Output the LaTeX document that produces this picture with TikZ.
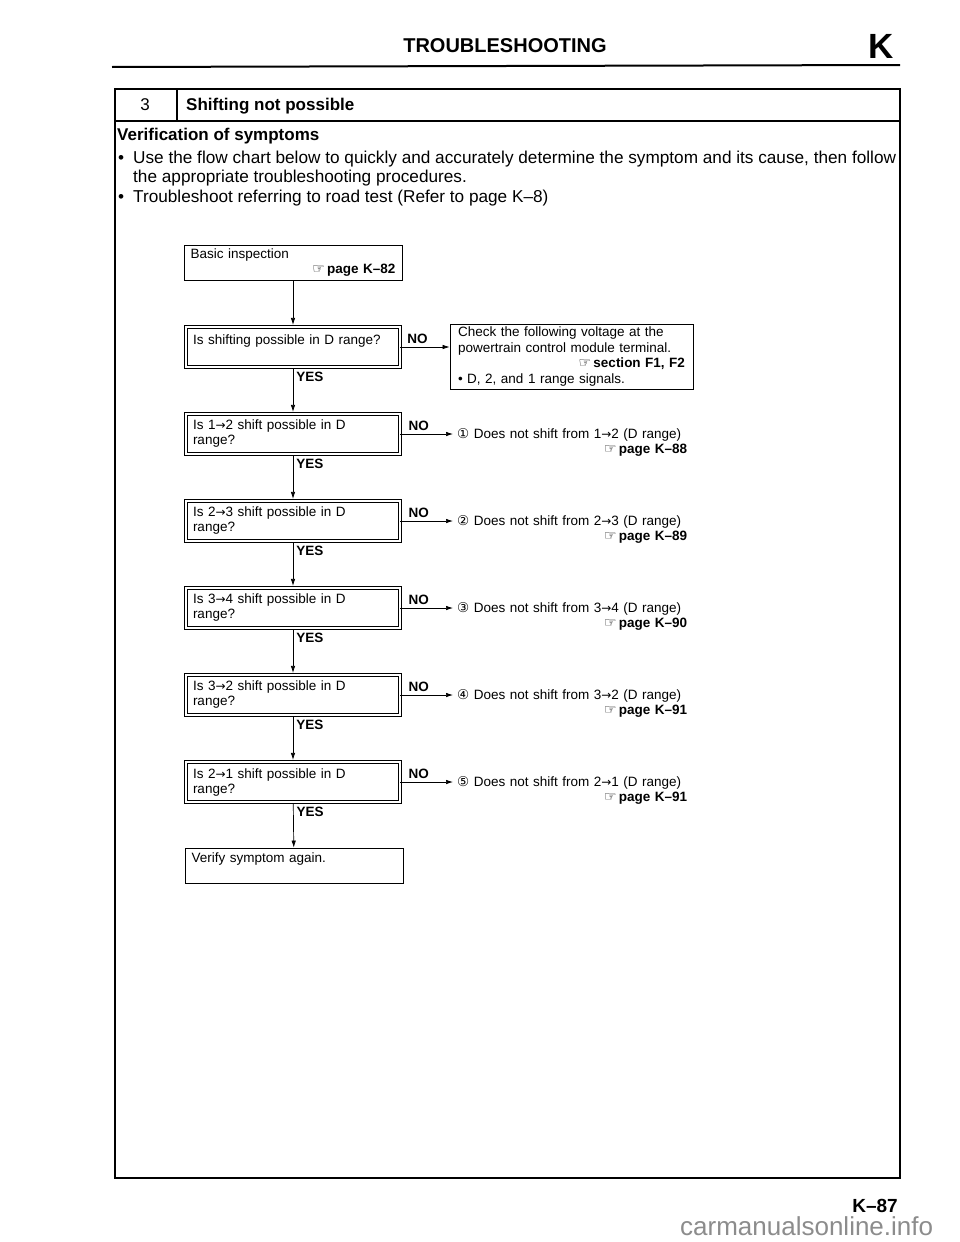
\documentclass[tikz,border=0pt]{standalone}
\usepackage{fontspec}
\setmainfont{Liberation Sans}
\newfontfamily\symfont{DejaVu Sans}
\usetikzlibrary{arrows.meta,positioning}

\newcommand{\flowfont}{\fontsize{13.5}{15}\selectfont}
\newcommand{\seeref}[1]{{\symfont\fontsize{14}{14}\selectfont ☞}\,\textbf{#1}}
\newcommand{\circnum}[1]{{\symfont #1}}
\newcommand{\shiftarrow}{{\symfont\fontsize{12}{12}\selectfont →}}

\begin{document}
\begin{tikzpicture}[x=1pt,y=-1pt,
  pbox/.style={draw, line width=.8pt, minimum width=218pt, inner sep=0pt, align=left, font=\flowfont},
  qbox/.style={draw, double, double distance=2.4pt, line width=.6pt, minimum width=214pt, minimum height=40pt, text width=200pt, inner sep=0pt, align=left, font=\flowfont},
  res/.style={anchor=west, text width=230pt, inner xsep=4pt, inner ysep=0pt, align=left, font=\flowfont},
  nolab/.style={above=3pt, inner sep=0pt, font=\flowfont\bfseries, pos=.35},
  yeslab/.style={right, xshift=3pt, inner sep=0pt, font=\flowfont\bfseries, pos=.2},
  arr/.style={-{Latex[length=7pt,width=4.5pt]}, line width=.7pt},
  body/.style={anchor=base west, inner sep=0pt, font=\fontsize{17.2}{20}\selectfont}]
\useasboundingbox (0,0) rectangle (960,1242);
\fill[white] (0,0) rectangle (960,1242);

% page head
\node[font=\bfseries\fontsize{20}{24}\selectfont] (title) at (505,46) {TROUBLESHOOTING};
\node[anchor=east, inner sep=0pt, font=\bfseries\fontsize{35}{40}\selectfont] (sect) at (894,46) {K};
\draw[line width=2pt] (112,67) -- (900,65);

% frame
\draw[line width=1.1pt] (115,89) rectangle (900,1178);
\draw[line width=1.1pt] (115,121) -- (900,121);
\draw[line width=1.1pt] (177,89) -- (177,121);
\node[font=\fontsize{17}{20}\selectfont] (num) at (145,105) {3};
\node[anchor=base west, inner sep=0pt, font=\bfseries\fontsize{17}{20}\selectfont] (head) at (186,110) {Shifting not possible};
\node[anchor=base west, inner sep=0pt, font=\bfseries\fontsize{17}{20}\selectfont] (verif) at (117,140) {Verification of symptoms};
\node[body] (l1) at (118,163) {\makebox[15pt][l]{•}Use the flow chart below to quickly and accurately determine the symptom and its cause, then follow};
\node[body] (l2) at (133,182.5) {the appropriate troubleshooting procedures.};
\node[body] (l3) at (118,202) {\makebox[15pt][l]{•}Troubleshoot referring to road test (Refer to page K–8)};

% flow chart
\node[pbox, minimum height=35pt, text width=205pt] (basic) at (293,262.5) {Basic inspection\\\hfill\seeref{page K–82}};
\node[qbox] (q0) at (293,347) {Is shifting possible in D range?\\\mbox{}};
\node[draw, line width=.8pt, text width=227pt, minimum width=243pt, minimum height=65pt, inner sep=0pt, align=left, font=\fontsize{13.5}{15.5}\selectfont] (chk) at (571.5,356.5) {Check the following voltage at the\\powertrain control module terminal.\\\hfill\seeref{section F1, F2}\\• D, 2, and 1 range signals.};
\node[qbox] (q1) at (293,434) {Is 1\shiftarrow2 shift possible in D\\range?};
\node[qbox] (q2) at (293,521) {Is 2\shiftarrow3 shift possible in D\\range?};
\node[qbox] (q3) at (293,608) {Is 3\shiftarrow4 shift possible in D\\range?};
\node[qbox] (q4) at (293,695) {Is 3\shiftarrow2 shift possible in D\\range?};
\node[qbox] (q5) at (293,782) {Is 2\shiftarrow1 shift possible in D\\range?};
\node[pbox, minimum height=35pt, text width=205pt] (verify) at (294,865.5) {Verify symptom again.\\\mbox{}};

\node[res] (r1) at (453,442) {\circnum{①} Does not shift from 1\shiftarrow2 (D range)\\\hfill\seeref{page K–88}};
\node[res] (r2) at (453,529) {\circnum{②} Does not shift from 2\shiftarrow3 (D range)\\\hfill\seeref{page K–89}};
\node[res] (r3) at (453,616) {\circnum{③} Does not shift from 3\shiftarrow4 (D range)\\\hfill\seeref{page K–90}};
\node[res] (r4) at (453,703) {\circnum{④} Does not shift from 3\shiftarrow2 (D range)\\\hfill\seeref{page K–91}};
\node[res] (r5) at (453,790) {\circnum{⑤} Does not shift from 2\shiftarrow1 (D range)\\\hfill\seeref{page K–91}};

\draw[arr, shorten >=1.8pt] (basic) -- (q0);
\draw[arr] (q0.east) -- node[nolab] (n0) {NO} (q0.east -| chk.west);
\draw[arr, shorten <=1.8pt, shorten >=1.8pt] (q0) -- node[yeslab] (y0) {YES} (q1);
\draw[arr] (q1.east) -- node[nolab] (n1) {NO} (q1.east -| r1.west);
\draw[arr, shorten <=1.8pt, shorten >=1.8pt] (q1) -- node[yeslab] (y1) {YES} (q2);
\draw[arr] (q2.east) -- node[nolab] (n2) {NO} (q2.east -| r2.west);
\draw[arr, shorten <=1.8pt, shorten >=1.8pt] (q2) -- node[yeslab] (y2) {YES} (q3);
\draw[arr] (q3.east) -- node[nolab] (n3) {NO} (q3.east -| r3.west);
\draw[arr, shorten <=1.8pt, shorten >=1.8pt] (q3) -- node[yeslab] (y3) {YES} (q4);
\draw[arr] (q4.east) -- node[nolab] (n4) {NO} (q4.east -| r4.west);
\draw[arr, shorten <=1.8pt, shorten >=1.8pt] (q4) -- node[yeslab] (y4) {YES} (q5);
\draw[arr] (q5.east) -- node[nolab] (n5) {NO} (q5.east -| r5.west);
\draw[arr, shorten <=1.8pt] (q5) -- node[yeslab] (y5) {YES} (verify);

% page foot
\node[anchor=base east, inner sep=0pt, font=\bfseries\fontsize{19}{22}\selectfont] (pagenum) at (898,1212) {K–87};
\node[anchor=base west, inner sep=0pt, text=black!45, font=\fontsize{26}{30}\selectfont] (wm) at (680,1235) {carmanualsonline.info};
\end{tikzpicture}
\end{document}
